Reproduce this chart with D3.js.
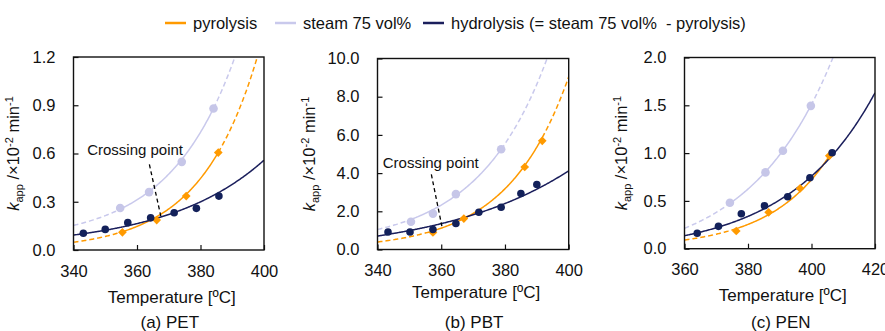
<!DOCTYPE html>
<html>
<head>
<meta charset="utf-8">
<script src="https://cdn.jsdelivr.net/npm/d3@7"></script>
<style>
  body { margin: 0; background: #fff; }
  svg { display: block; font-family: "Liberation Sans", Arial, sans-serif; }
</style>
</head>
<body>
<svg id="chart" width="885" height="331"></svg>
<script>
// ---- data ----
const petPyroT = [355.4, 366.2, 375.5, 385.6];
const petPyroK = [0.11, 0.186, 0.335, 0.606];
const petSteamT = [354.7, 363.8, 374.1, 384.1];
const petSteamK = [0.261, 0.36, 0.548, 0.88];
const petHydroT = [343.1, 350.0, 357.1, 364.3, 371.7, 378.7, 385.8];
const petHydroK = [0.104, 0.128, 0.17, 0.2, 0.232, 0.259, 0.335];

const pbtPyroT = [357.4, 367.1, 386.2, 391.7];
const pbtPyroK = [0.89, 1.62, 4.32, 5.69];
const pbtSteamT = [350.5, 357.4, 364.6, 378.8];
const pbtSteamK = [1.45, 1.88, 2.9, 5.25];
const pbtHydroT = [343.3, 350.2, 357.4, 364.6, 371.8, 378.8, 385.0, 390.0];
const pbtHydroK = [0.92, 0.92, 1.05, 1.36, 1.95, 2.21, 2.93, 3.40];

const penPyroT = [376.3, 386.5, 396.4, 405.6];
const penPyroK = [0.185, 0.38, 0.631, 0.972];
const penSteamT = [374.3, 385.5, 391.0, 399.8];
const penSteamK = [0.481, 0.798, 1.024, 1.494];
const penHydroT = [364.0, 370.7, 377.9, 385.2, 392.5, 399.5, 406.5];
const penHydroK = [0.161, 0.234, 0.366, 0.449, 0.543, 0.742, 1.003];

// trend lines of the figure, k = c + a*exp(b*(T - Tmin)), as [a, b, c]
const petPyroFit = [0.0483, 0.0555, 0];
const petSteamFit = [0.09666, 0.04861, 0.0563];
const petHydroFit = [0.078, 0.03235, 0.015];
const pbtPyroFit = [0.393, 0.05226, 0];
const pbtSteamFit = [0.8474, 0.046, 0.2];
const pbtHydroFit = [1.0289, 0.02438, -0.3223];
const penPyroFit = [0.0871, 0.05275, 0.0039];
const penSteamFit = [0.3555, 0.03841, -0.1425];
const penHydroFit = [0.1875, 0.03657, -0.0515];

const xTicksPET = [340, 360, 380, 400];
const yTicksPET = [0, 0.3, 0.6, 0.9, 1.2];
const xTicksPBT = [340, 360, 380, 400];
const yTicksPBT = [0, 2, 4, 6, 8, 10];
const xTicksPEN = [360, 380, 400, 420];
const yTicksPEN = [0, 0.5, 1.0, 1.5, 2.0];

const panelLabels = ["(a) PET", "(b) PBT", "(c) PEN"];
const legendLabels = ["pyrolysis", "steam 75 vol%", "hydrolysis (= steam 75 vol%  - pyrolysis)"];

// crossing point notes, in data units: [text T, text k], line from / to
const crossPET = [[359.4, 0.59], [363.9, 0.532], [367.5, 0.211]];
const crossPBT = [[356.7, 4.28], [356.9, 3.93], [360.2, 1.22]];

// ---- layout ----
const svg = d3.select("#chart");
const orange = "#ff9a00", lavender = "#c9c9ec", navy = "#1b1f5c";
const navyDot = "#13215a", lavenderDot = "#c6c6e8";

const plotLeft = [73.5, 377.5, 684.5];
const plotRight = [264, 568.7, 875];
const plotTop = [57, 58.5, 57.5];
const plotBottom = [250, 249.5, 248.7];
const yTitleOffset = [54.5, 62.5, 57.5];
const xTitleY = [303, 298, 301];

const panels = [
  { xTicks: xTicksPET, yTicks: yTicksPET,
    pyro: [petPyroT, petPyroK, petPyroFit], steam: [petSteamT, petSteamK, petSteamFit],
    hydro: [petHydroT, petHydroK, petHydroFit], cross: crossPET, pyroHigh: true },
  { xTicks: xTicksPBT, yTicks: yTicksPBT,
    pyro: [pbtPyroT, pbtPyroK, pbtPyroFit], steam: [pbtSteamT, pbtSteamK, pbtSteamFit],
    hydro: [pbtHydroT, pbtHydroK, pbtHydroFit], cross: crossPBT, pyroHigh: true },
  { xTicks: xTicksPEN, yTicks: yTicksPEN,
    pyro: [penPyroT, penPyroK, penPyroFit], steam: [penSteamT, penSteamK, penSteamFit],
    hydro: [penHydroT, penHydroK, penHydroFit], cross: null, pyroHigh: false }
];

panels.forEach((p, i) => {
  const x = d3.scaleLinear().domain(d3.extent(p.xTicks)).range([plotLeft[i], plotRight[i]]);
  const y = d3.scaleLinear().domain(d3.extent(p.yTicks)).range([plotBottom[i], plotTop[i]]);
  const g = svg.append("g");

  svg.append("clipPath").attr("id", "clip" + i)
    .append("rect")
    .attr("x", plotLeft[i]).attr("y", plotTop[i])
    .attr("width", plotRight[i] - plotLeft[i]).attr("height", plotBottom[i] - plotTop[i]);

  const curves = g.append("g").attr("clip-path", `url(#clip${i})`);
  const [xMin, xMax] = x.domain();

  function drawCurve(series, color, mode) {
    const [a, b, c] = series[2];
    const f = t => c + a * Math.exp(b * (t - xMin));
    const tFirst = d3.min(series[0]), tLast = d3.max(series[0]);
    const line = d3.line().x(t => x(t)).y(t => y(f(t)));
    const seg = (lo, hi, dashed) => {
      const ts = d3.range(lo, hi, 0.25).concat([hi]);
      curves.append("path")
        .attr("d", line(ts))
        .attr("fill", "none")
        .attr("stroke", color)
        .attr("stroke-width", 1.5)
        .attr("stroke-dasharray", dashed ? "5,3" : null);
    };
    if (mode === "full") {
      seg(xMin, xMax, false);
    } else {
      seg(xMin, tFirst, true);
      seg(tFirst, tLast, false);
      if (mode !== "noHigh") seg(tLast, xMax, true);
    }
  }

  drawCurve(p.steam, lavender, "ext");
  drawCurve(p.pyro, orange, p.pyroHigh ? "ext" : "noHigh");
  drawCurve(p.hydro, navy, "full");

  // markers
  g.selectAll(".steam-dot").data(d3.zip(p.steam[0], p.steam[1])).enter()
    .append("circle")
    .attr("cx", d => x(d[0])).attr("cy", d => y(d[1]))
    .attr("r", 4.3).attr("fill", lavenderDot);

  g.selectAll(".pyro-dot").data(d3.zip(p.pyro[0], p.pyro[1])).enter()
    .append("path")
    .attr("d", d3.symbol(d3.symbolSquare, 38))
    .attr("transform", d => `translate(${x(d[0])},${y(d[1])}) rotate(45)`)
    .attr("fill", orange);

  g.selectAll(".hydro-dot").data(d3.zip(p.hydro[0], p.hydro[1])).enter()
    .append("circle")
    .attr("cx", d => x(d[0])).attr("cy", d => y(d[1]))
    .attr("r", 3.8).attr("fill", navyDot);

  // crossing point note
  if (p.cross) {
    const [txt, from, to] = p.cross;
    g.append("line")
      .attr("x1", x(from[0])).attr("y1", y(from[1]))
      .attr("x2", x(to[0])).attr("y2", y(to[1]))
      .attr("stroke", "#000").attr("stroke-width", 1.3)
      .attr("stroke-dasharray", "4,3");
    g.append("text")
      .attr("x", x(txt[0])).attr("y", y(txt[1]))
      .attr("text-anchor", "middle")
      .attr("font-size", 15)
      .attr("fill", "#111")
      .text("Crossing point");
  }

  // frame
  g.append("rect")
    .attr("x", plotLeft[i]).attr("y", plotTop[i])
    .attr("width", plotRight[i] - plotLeft[i]).attr("height", plotBottom[i] - plotTop[i])
    .attr("fill", "none").attr("stroke", "#111").attr("stroke-width", 1.4);

  // axes with inside ticks
  const xAxis = g.append("g")
    .attr("transform", `translate(0,${plotBottom[i]})`)
    .call(d3.axisBottom(x).tickValues(p.xTicks).tickSize(-5).tickPadding(15).tickFormat(d3.format("d")));
  const yAxis = g.append("g")
    .attr("transform", `translate(${plotLeft[i]},0)`)
    .call(d3.axisLeft(y).tickValues(p.yTicks).tickSize(-5).tickPadding(18).tickFormat(d3.format(".1f")));
  [xAxis, yAxis].forEach(ax => {
    ax.select(".domain").remove();
    ax.selectAll(".tick line").attr("stroke", "#111").attr("stroke-width", 1.2);
    ax.selectAll(".tick text").attr("font-size", 16.5).attr("fill", "#111")
      .attr("font-family", "Liberation Sans, Arial, sans-serif");
  });

  const cx = (plotLeft[i] + plotRight[i]) / 2;
  g.append("text")
    .attr("x", cx + 3).attr("y", xTitleY[i])
    .attr("text-anchor", "middle").attr("font-size", 17).attr("fill", "#111")
    .text("Temperature [ºC]");
  g.append("text")
    .attr("x", cx + 1).attr("y", 328)
    .attr("text-anchor", "middle").attr("font-size", 17).attr("fill", "#111")
    .style("white-space", "pre")
    .text(panelLabels[i]);

  const yt = g.append("text")
    .attr("transform", `translate(${plotLeft[i] - yTitleOffset[i]},${(plotTop[i] + plotBottom[i]) / 2}) rotate(-90)`)
    .attr("text-anchor", "middle").attr("font-size", 16.5).attr("fill", "#111");
  yt.append("tspan").attr("font-style", "italic").text("k");
  yt.append("tspan").attr("font-size", 11).attr("dy", 4).text("app");
  yt.append("tspan").attr("dy", -4).text(" /×10");
  yt.append("tspan").attr("font-size", 11).attr("dy", -6).text("-2");
  yt.append("tspan").attr("dy", 6).text(" min");
  yt.append("tspan").attr("font-size", 11).attr("dy", -6).text("-1");
});

// legend
const legendX = [165, 275, 423];
const legendColors = [orange, lavender, navy];
const legend = svg.append("g");
legendLabels.forEach((lab, i) => {
  legend.append("line")
    .attr("x1", legendX[i]).attr("x2", legendX[i] + 21)
    .attr("y1", 23).attr("y2", 23)
    .attr("stroke", legendColors[i]).attr("stroke-width", 2.5);
  legend.append("text")
    .attr("x", legendX[i] + 28).attr("y", 28.5)
    .attr("font-size", 16.5).attr("fill", "#111")
    .style("white-space", "pre")
    .text(lab);
});
</script>
</body>
</html>
